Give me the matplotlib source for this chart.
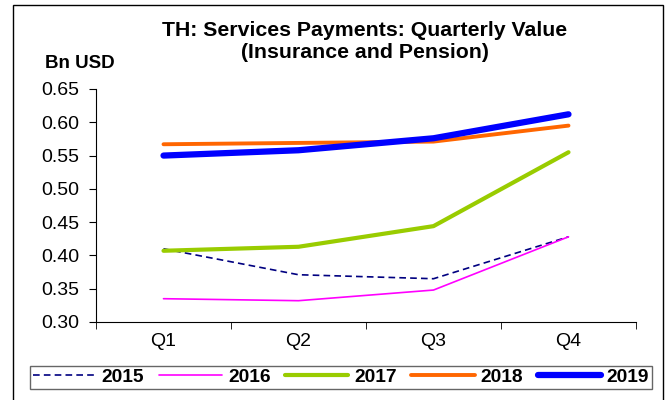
import matplotlib
matplotlib.use("Agg")
import matplotlib.pyplot as plt
from matplotlib.patches import Rectangle

quarters = ["Q1", "Q2", "Q3", "Q4"]
years = ["2015", "2016", "2017", "2018", "2019"]
v2015 = [0.410, 0.371, 0.365, 0.428]
v2016 = [0.335, 0.332, 0.348, 0.428]
v2017 = [0.407, 0.413, 0.444, 0.555]
v2018 = [0.567, 0.569, 0.571, 0.595]
v2019 = [0.550, 0.558, 0.576, 0.612]
yticks = [0.30, 0.35, 0.40, 0.45, 0.50, 0.55, 0.60, 0.65]

plt.rcParams['font.family'] = ['Liberation Sans', 'DejaVu Sans']

fig = plt.figure(figsize=(6.69, 4.0), dpi=100)
W, H = 669, 400

# outer frame
fig.patches.append(Rectangle((13 / W, -0.01), (663 - 13) / W, (H - 5) / H + 0.01,
                             transform=fig.transFigure, fill=False, edgecolor='black',
                             linewidth=1.0))

ax = fig.add_axes([96 / W, 1 - 322 / H, (636 - 96) / W, (322 - 89) / H])
x = list(range(len(quarters)))
styles = [
    (v2015, dict(color='#000080', lw=1.2, ls=(0, (4, 2.5)))),
    (v2016, dict(color='#FF00FF', lw=1.2, ls='-')),
    (v2017, dict(color='#99CC00', lw=3.0, ls='-')),
    (v2018, dict(color='#FF6600', lw=2.8, ls='-')),
    (v2019, dict(color='#0000FF', lw=4.5, ls='-')),
]
handles = []
for (vals, st), yr in zip(styles, years):
    h, = ax.plot(x, vals, label=yr, solid_capstyle='round', **st)
    handles.append(h)

ax.set_xlim(-0.5, 3.5)
ax.set_ylim(0.30, 0.65)
ax.set_yticks(yticks)
ax.set_yticklabels([f"{t:.2f}" for t in yticks], fontsize=14)
ax.set_xticks(x)
ax.set_xticklabels(quarters, fontsize=14)
ax.set_xticks([-0.5, 0.5, 1.5, 2.5, 3.5], minor=True)
ax.tick_params(axis='x', which='major', length=0, pad=8)
ax.tick_params(axis='x', which='minor', length=5, direction='out')
ax.tick_params(axis='y', length=5, direction='out', pad=7)
for s in ['top', 'right']:
    ax.spines[s].set_visible(False)
ax.spines['left'].set_linewidth(0.8)
ax.spines['bottom'].set_linewidth(0.8)

fig.text(365 / W, 1 - 41 / H, "TH: Services Payments: Quarterly Value\n(Insurance and Pension)",
         ha='center', va='center', fontsize=15.3, fontweight='bold', linespacing=1.2)
fig.text(45 / W, 1 - 63 / H, "Bn USD", ha='left', va='center', fontsize=13.5, fontweight='bold')

leg = fig.legend(handles=handles, loc='lower left', ncol=5, mode='expand',
                 bbox_to_anchor=(30 / W, 1 - 389 / H, (652 - 30) / W, 25 / H),
                 prop={'weight': 'bold', 'size': 13.8}, handlelength=3.3,
                 columnspacing=0.5, handletextpad=0.3, frameon=True, fancybox=False,
                 borderpad=0.15, borderaxespad=0)
leg.get_frame().set_edgecolor('#404040')
leg.get_frame().set_linewidth(1.0)

fig.savefig("out.png", dpi=100)
